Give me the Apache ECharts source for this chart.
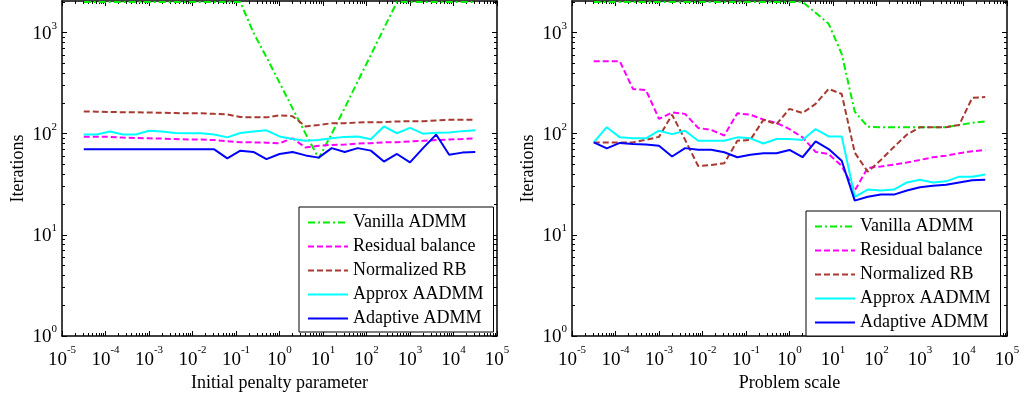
<!DOCTYPE html>
<html>
<head>
<meta charset="utf-8">
<script src="https://cdn.jsdelivr.net/npm/echarts@6/dist/echarts.min.js"></script>
<style>
  html, body { margin: 0; padding: 0; background: #fff; }
  #chart { width: 1024px; height: 395px; }
</style>
</head>
<body>
<div id="chart"></div>
<script>
// ---- data ----
const methodNames = ['Vanilla ADMM', 'Residual balance', 'Normalized RB', 'Approx AADMM', 'Adaptive ADMM'];

// sampled initial penalty parameters (left panel) and problem scales (right panel)
const penaltyValues = [3.162e-5, 6.310e-5, 1.259e-4, 2.512e-4, 5.012e-4, 1e-3, 1.995e-3, 3.981e-3, 7.943e-3, 1.585e-2,
  3.162e-2, 6.310e-2, 0.1259, 0.2512, 0.5012, 1, 1.995, 3.981, 7.943, 15.85,
  31.62, 63.10, 125.9, 251.2, 501.2, 1000, 1995, 3981, 7943, 15849, 31623];
const problemScales = [3.162e-5, 6.310e-5, 1.259e-4, 2.512e-4, 5.012e-4, 1e-3, 1.995e-3, 3.981e-3, 7.943e-3, 1.585e-2,
  3.162e-2, 6.310e-2, 0.1259, 0.2512, 0.5012, 1, 1.995, 3.981, 7.943, 15.85,
  31.62, 63.10, 125.9, 251.2, 501.2, 1000, 1995, 3981, 7943, 15849, 31623];

// iterations vs initial penalty parameter
const vanillaPenalty = [2000, 2000, 2000, 2000, 2000, 2000, 2000, 2000, 2000, 2000, 2000, 2000, 2000,
  1000, 570, 320, 178, 100, 57, 100, 180, 330, 600, 1100,
  2000, 2000, 2000, 2000, 2000, 2000, 2000];
const residualPenalty = [93.5, 93.5, 93, 91.5, 90.5, 90, 89.5, 88.5, 87.5, 87.5, 86.5, 84, 82.5, 82, 81.5, 80.5,
  90, 73, 76, 77.5, 78, 80, 80.5, 82, 82.5, 84, 85, 86.5, 87.5, 88.5, 90];
const normalizedPenalty = [166, 165, 164, 163, 163, 162, 161, 160, 159, 159, 157, 155, 146, 145, 145, 152,
  149, 118, 122, 127, 127, 129, 130, 130, 132, 133, 133, 135, 137, 137, 137];
const approxPenalty = [98, 98, 105, 98, 98, 107, 105, 101.5, 101, 101, 98, 92, 101.5, 105, 108, 94,
  88.5, 85, 86.5, 90, 93, 94, 88, 118, 101, 114, 100, 102, 102.5, 106, 108];
const adaptivePenalty = [70, 70, 70, 70, 70, 70, 70, 70, 70, 70, 70, 57, 68, 66, 56, 63,
  66, 61, 58, 72, 66, 72, 68, 53, 63, 52, 72, 98, 62, 65, 66];

// iterations vs problem scale
const vanillaScale = [2000, 2000, 2000, 2000, 2000, 2000, 2000, 2000, 2000, 2000, 2000, 2000, 2000, 2000, 2000, 2000, 2000,
  1570, 1220, 615, 165, 117, 116, 116, 116, 116, 116, 116, 122, 128, 132];
const residualScale = [520, 520, 520, 277, 270, 140, 162, 157, 114, 109, 96, 159, 154, 138, 128, 111,
  92, 66, 63, 48, 27.4, 46, 47.5, 49.5, 52, 55, 58.5, 60.6, 64, 67, 69];
const normalizedScale = [82, 82, 82, 82, 87, 93, 154, 87, 48, 49, 51, 85, 87, 137, 124, 176,
  160, 197, 277, 247, 65, 42, 55, 74, 98, 116, 116, 116, 122, 226, 230];
const approxScale = [82, 116, 92, 90, 90, 107, 99, 107, 85, 85, 85, 92, 90, 80, 88.5, 88.5,
  86.6, 111, 94, 94, 23.8, 28, 27.4, 28, 33, 35, 33, 33.8, 37.6, 37.6, 39.5];
const adaptiveScale = [82, 71.5, 81, 79, 78, 76, 59.5, 72, 69.5, 69.5, 65.5, 58.5, 62, 64, 64, 69,
  58.5, 84, 70.5, 54, 21.8, 23.8, 25, 25, 27.4, 29.5, 30.5, 31.3, 33, 34.7, 35];

// axis decades (exponents of the labelled ticks)
const xTickExponents = [-5, -4, -3, -2, -1, 0, 1, 2, 3, 4, 5];
const yTickExponents = [0, 1, 2, 3];
const xAxisTitles = ['Initial penalty parameter', 'Problem scale'];
const yAxisTitle = 'Iterations';

// ---- styling ----
const FONT = 'Liberation Serif';
const lineStyles = {
  'Vanilla ADMM':     { color: '#00ee00', type: [7, 3, 2, 3] },
  'Residual balance': { color: '#ff00ff', type: [6, 3] },
  'Normalized RB':    { color: '#a83a32', type: [6, 3] },
  'Approx AADMM':     { color: '#00ffff', type: 'solid' },
  'Adaptive ADMM':    { color: '#0000ff', type: 'solid' }
};

const X_MIN = 1e-5, X_MAX = 1e5, Y_MIN = 1, Y_MAX = 2050;
const grids = [
  { left: 62, top: 1, width: 435, height: 335 },
  { left: 572, top: 1, width: 435, height: 335 }
];

function pow10(e) { return Math.pow(10, e); }
const xMajor = xTickExponents.map(pow10);
const yMajor = yTickExponents.map(pow10);
function minorsBetween(exps) {
  const out = [];
  for (let i = 0; i < exps.length; i++) {
    for (let k = 2; k <= 9; k++) out.push(k * pow10(exps[i]));
  }
  return out;
}
const xMinor = minorsBetween(xTickExponents.slice(0, -1));
const yMinor = minorsBetween(yTickExponents).filter(v => v < Y_MAX);

function powerLabel(v) {
  const e = Math.round(Math.log10(v));
  return '{b|10}{s|' + e + '}';
}
const xRich = {
  b: { fontFamily: FONT, fontSize: 19, color: '#000', lineHeight: 30 },
  s: { fontFamily: FONT, fontSize: 11, color: '#000', verticalAlign: 'top', lineHeight: 12 }
};
const yRich = {
  b: { fontFamily: FONT, fontSize: 19, color: '#000', lineHeight: 24, padding: [3, 0, 0, 0] },
  s: { fontFamily: FONT, fontSize: 11, color: '#000', verticalAlign: 'top', lineHeight: 12 }
};

const blackLine = { show: true, lineStyle: { color: '#000', width: 1.5 } };
const tickStyle = { color: '#000', width: 1 };

const xAxes = [], yAxes = [], series = [], legends = [];

grids.forEach((g, gi) => {
  const xBase = { type: 'log', logBase: 10, gridIndex: gi, min: X_MIN, max: X_MAX, splitLine: { show: false } };
  const yBase = { type: 'log', logBase: 10, gridIndex: gi, min: Y_MIN, max: Y_MAX, splitLine: { show: false } };
  const xMain = xAxes.length;
  // bottom axis with labels and major ticks
  xAxes.push(Object.assign({}, xBase, {
    position: 'bottom',
    axisLine: blackLine,
    axisTick: { show: true, inside: true, length: 5, lineStyle: tickStyle, customValues: xMajor },
    axisLabel: { show: true, margin: 9, customValues: xMajor, formatter: powerLabel, rich: xRich },
    name: xAxisTitles[gi], nameLocation: 'middle', nameGap: 35,
    nameTextStyle: { fontFamily: FONT, fontSize: 18, color: '#000' }
  }));
  // bottom minor ticks
  xAxes.push(Object.assign({}, xBase, {
    position: 'bottom', axisLine: { show: false },
    axisTick: { show: true, inside: true, length: 3, lineStyle: tickStyle, customValues: xMinor },
    axisLabel: { show: false }
  }));
  // top border with mirrored ticks
  xAxes.push(Object.assign({}, xBase, {
    position: 'top', axisLine: blackLine,
    axisTick: { show: true, inside: true, length: 5, lineStyle: tickStyle, customValues: xMajor },
    axisLabel: { show: false }
  }));
  xAxes.push(Object.assign({}, xBase, {
    position: 'top', axisLine: { show: false },
    axisTick: { show: true, inside: true, length: 3, lineStyle: tickStyle, customValues: xMinor },
    axisLabel: { show: false }
  }));

  const yMain = yAxes.length;
  yAxes.push(Object.assign({}, yBase, {
    position: 'left',
    axisLine: blackLine,
    axisTick: { show: true, inside: true, length: 5, lineStyle: tickStyle, customValues: yMajor },
    axisLabel: { show: true, margin: 5, customValues: yMajor, formatter: powerLabel, rich: yRich },
    name: yAxisTitle, nameLocation: 'middle', nameGap: 35, nameRotate: 90,
    nameTextStyle: { fontFamily: FONT, fontSize: 18, color: '#000' }
  }));
  yAxes.push(Object.assign({}, yBase, {
    position: 'left', axisLine: { show: false },
    axisTick: { show: true, inside: true, length: 3, lineStyle: tickStyle, customValues: yMinor },
    axisLabel: { show: false }
  }));
  yAxes.push(Object.assign({}, yBase, {
    position: 'right', axisLine: blackLine,
    axisTick: { show: true, inside: true, length: 5, lineStyle: tickStyle, customValues: yMajor },
    axisLabel: { show: false }
  }));
  yAxes.push(Object.assign({}, yBase, {
    position: 'right', axisLine: { show: false },
    axisTick: { show: true, inside: true, length: 3, lineStyle: tickStyle, customValues: yMinor },
    axisLabel: { show: false }
  }));

  const xs = gi === 0 ? penaltyValues : problemScales;
  const sets = gi === 0
    ? [vanillaPenalty, residualPenalty, normalizedPenalty, approxPenalty, adaptivePenalty]
    : [vanillaScale, residualScale, normalizedScale, approxScale, adaptiveScale];
  methodNames.forEach((name, si) => {
    const st = lineStyles[name];
    series.push({
      type: 'line', name: name,
      xAxisIndex: xMain, yAxisIndex: yMain,
      data: xs.map((x, i) => [x, sets[si][i]]),
      symbol: 'none', showSymbol: false, animation: false,
      color: st.color,
      lineStyle: { color: st.color, width: 2, type: st.type },
      z: 2 + si
    });
  });

  legends.push({
    show: true, orient: 'vertical',
    left: gi === 0 ? 299 : 806, top: gi === 0 ? 207 : 211,
    data: methodNames,
    backgroundColor: '#fff', borderColor: '#000', borderWidth: 1,
    padding: [6, 10, 4, 8],
    itemWidth: 40, itemHeight: 12, itemGap: 5,
    selectedMode: false,
    itemStyle: { opacity: 0 },
    lineStyle: { width: 2 },
    textStyle: { fontFamily: FONT, fontSize: 18, color: '#000', lineHeight: 19 },
    z: 10
  });
});

const chart = echarts.init(document.getElementById('chart'), null, { renderer: 'canvas' });
chart.setOption({
  animation: false,
  backgroundColor: '#fff',
  grid: grids.map(g => Object.assign({ containLabel: false, outerBoundsMode: 'none' }, g)),
  xAxis: xAxes,
  yAxis: yAxes,
  legend: legends,
  series: series
});
</script>
</body>
</html>
